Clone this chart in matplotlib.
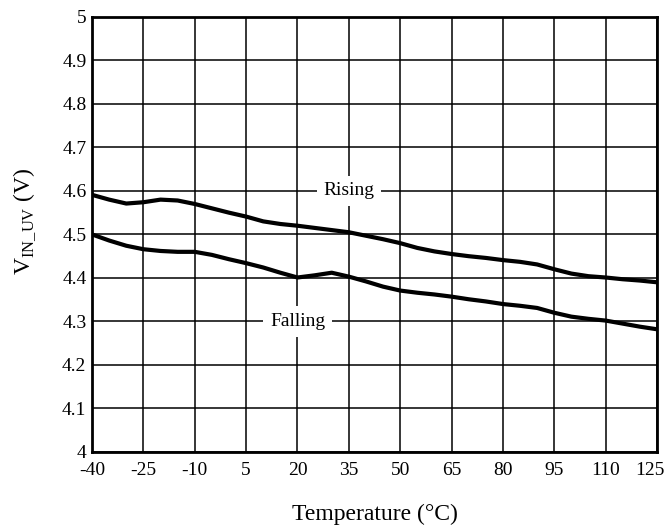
import matplotlib

matplotlib.use("Agg")
import matplotlib.pyplot as plt
import matplotlib.transforms as transforms

# temperature sweep in degC, thresholds
temperature = [-40, -35, -30, -25, -20, -15, -10, -5, 0, 5, 10, 15, 20, 25, 30,
               35, 40, 45, 50, 55, 60, 65, 70, 75, 80, 85, 90, 95, 100, 105,
               110, 115, 120, 125]
rising = [4.591, 4.580, 4.571, 4.574, 4.580, 4.578, 4.570, 4.560, 4.550,
          4.541, 4.530, 4.524, 4.520, 4.515, 4.510, 4.505, 4.497, 4.489,
          4.480, 4.469, 4.461, 4.455, 4.450, 4.446, 4.441, 4.437, 4.431,
          4.420, 4.410, 4.404, 4.401, 4.397, 4.394, 4.390]
falling = [4.500, 4.486, 4.474, 4.466, 4.462, 4.460, 4.460, 4.453, 4.443,
           4.434, 4.424, 4.412, 4.401, 4.406, 4.412, 4.403, 4.392, 4.380,
           4.371, 4.366, 4.362, 4.357, 4.351, 4.346, 4.340, 4.336, 4.331,
           4.320, 4.311, 4.306, 4.302, 4.295, 4.288, 4.282]

x_ticks = [-40, -25, -10, 5, 20, 35, 50, 65, 80, 95, 110, 125]
x_tick_labels = ["-40", "-25", "-10", "5", "20", "35", "50", "65", "80",
                 "95", "110", "125"]
y_ticks = [4.0, 4.1, 4.2, 4.3, 4.4, 4.5, 4.6, 4.7, 4.8, 4.9, 5.0]
y_tick_labels = ["4", "4.1", "4.2", "4.3", "4.4", "4.5", "4.6", "4.7", "4.8",
                 "4.9", "5"]

# label anchors (x, y) for the two curves
rising_label = (35, 4.6)
falling_label = (20, 4.3)

plt.rcParams["font.family"] = ["Liberation Serif", "DejaVu Serif"]
plt.rcParams["mathtext.fontset"] = "custom"
plt.rcParams["mathtext.rm"] = "Liberation Serif"


def main():
    fig = plt.figure(figsize=(6.67, 5.28), dpi=100)
    ax = fig.add_axes([0.138, 0.144, 0.847, 0.824])

    ax.plot(temperature, rising, color="black", linewidth=3.0,
            solid_capstyle="butt", solid_joinstyle="round", zorder=3)
    ax.plot(temperature, falling, color="black", linewidth=3.0,
            solid_capstyle="butt", solid_joinstyle="round", zorder=3)

    ax.set_xlim(x_ticks[0], x_ticks[-1])
    ax.set_ylim(y_ticks[0], y_ticks[-1])
    ax.set_xticks(x_ticks)
    ax.set_xticklabels(x_tick_labels)
    ax.set_yticks(y_ticks)
    ax.set_yticklabels(y_tick_labels)
    ax.tick_params(axis="both", length=0, labelsize=14)
    ax.tick_params(axis="x", pad=7)
    ax.tick_params(axis="y", pad=4)

    # last x label would run off the right edge, nudge it in a little
    last = ax.get_xticklabels()[-1]
    shift = transforms.ScaledTranslation(-7 / 100, 0, fig.dpi_scale_trans)
    last.set_transform(last.get_transform() + shift)

    ax.grid(True, color="black", linewidth=1.1)
    ax.set_axisbelow(True)
    for spine in ax.spines.values():
        spine.set_linewidth(2.0)
        spine.set_zorder(4)

    # curve names sit on the grid with a white box knocking the lines out
    box = dict(boxstyle="square,pad=0.35", facecolor="white", edgecolor="none")
    ax.text(rising_label[0], rising_label[1], "Rising", fontsize=14,
            ha="center", va="center", bbox=box, zorder=2)
    ax.text(falling_label[0], falling_label[1], "Falling", fontsize=14,
            ha="center", va="center", bbox=box, zorder=2)

    ax.set_xlabel("Temperature (°C)", fontsize=17, labelpad=18)
    ax.set_ylabel(r"V$_{\rm IN\_UV}$ (V)", fontsize=17)
    ax.yaxis.set_label_coords(-0.096, 0.53)

    fig.savefig("out.png", dpi=100)


if __name__ == "__main__":
    main()
